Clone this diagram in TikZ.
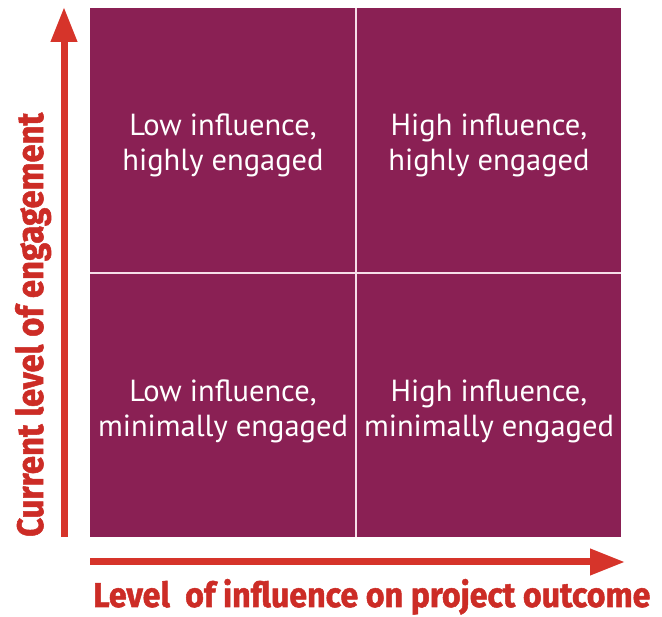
\documentclass[tikz,border=0pt]{standalone}
\usepackage{fontspec}
\setmainfont{PT Sans}
\newfontfamily\labelfont{Fira Sans}[BoldFeatures={FakeBold=1.5}]
\usetikzlibrary{arrows.meta}
\definecolor{quadfill}{RGB}{138,32,84}
\definecolor{axisred}{RGB}{214,52,42}
\definecolor{labelred}{RGB}{204,44,38}
\definecolor{divline}{RGB}{246,222,232}

\begin{document}
\begin{tikzpicture}[x=1pt,y=-1pt,
    qtext/.style={text=white, align=center, font=\fontsize{30.5}{35}\selectfont},
    axis/.style={axisred, line width=7pt, -{Triangle[width=25pt,length=35pt]}},
    axislabel/.style={text=labelred, inner sep=0pt, anchor=base west}]
    \useasboundingbox (0,0) rectangle (662,617);
    % the grid
    \fill[quadfill] (90,8) rectangle (621,537);
    \draw[divline, line width=1.8pt] (356,8) -- (356,537);
    \draw[divline, line width=1.8pt] (90,273) -- (621,273);
    \node[qtext] (lowhigh) at (223,145) {Low influence,\\highly engaged};
    \node[qtext] (highhigh) at (489,145) {High influence,\\highly engaged};
    \node[qtext] (lowmin) at (223,411) {Low influence,\\minimally engaged};
    \node[qtext] (highmin) at (489,411) {High influence,\\minimally engaged};
    % axes
    \coordinate (vbot) at (64,537);
    \coordinate (vtop) at (64,7);
    \coordinate (hleft) at (90,562);
    \coordinate (hright) at (625,562);
    \draw[axis] (vbot) -- (vtop);
    \draw[axis] (hleft) -- (hright);
    \node[axislabel] (xlabel) at (93,607)
        {\resizebox{557pt}{28pt}{\labelfont\bfseries Level\ \ of influence on project outcome}};
    \node[axislabel, rotate=90] (ylabel) at (43,537)
        {\resizebox{424pt}{28pt}{\labelfont\bfseries Current level of engagement}};
\end{tikzpicture}
\end{document}
